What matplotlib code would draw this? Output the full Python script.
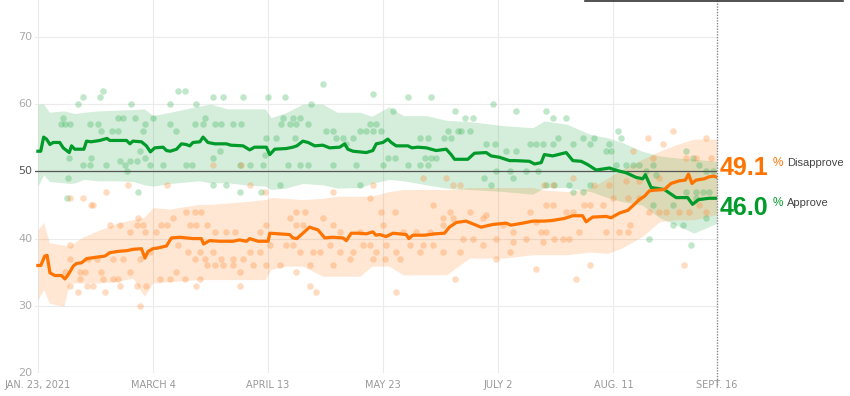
import matplotlib.pyplot as plt
from matplotlib import font_manager
from matplotlib.lines import Line2D

# days are counted from Jan. 23, 2021
tick_days = [0, 40, 80, 120, 160, 200, 236]
tick_labels = ['JAN. 23, 2021', 'MARCH 4', 'APRIL 13', 'MAY 23', 'JULY 2', 'AUG. 11', 'SEPT. 16']
y_ticks = [20, 30, 40, 50, 60, 70]

# trend lines
approve_days = [0, 1, 2, 3, 4.2, 5.3, 7.6, 8.8, 10.9, 11.7, 12.8, 16, 16.9, 18.5, 21.5, 24, 25, 30.8, 32, 33,
                36, 37.7, 39.1, 40.6, 43.5, 44.7, 46, 48.2, 49.9, 51.5, 52.8, 53.9, 56.3, 57.4, 59.1, 61.5,
                65.5, 67, 71.3, 73.6, 75.3, 79.4, 80.6, 82.3, 86.3, 88.6, 90, 92.1, 93.9, 96.2, 99, 101.4,
                104.9, 106.6, 107.7, 109.5, 114.1, 116.4, 117.6, 119.9, 121.6, 122.8, 124.5, 128.6, 130, 132,
                135, 138.4, 141.9, 143.6, 144.8, 149.4, 151.7, 155.8, 157.5, 160.4, 163.9, 166, 170.8, 172.6,
                174.9, 176, 178.9, 183.6, 185.9, 188.8, 191.1, 194, 198.6, 201.5, 204.4, 207.9, 210.2, 211.1,
                213.1, 217.7, 219.4, 221.8, 225.8, 227.5, 229.6, 233.3, 236]
approve = [53.0, 53.0, 55.1, 54.8, 54.0, 54.3, 54.3, 53.5, 52.8, 53.8, 53.3, 53.3, 54.5, 54.4, 54.6, 54.9, 54.6,
           54.6, 54.1, 54.5, 54.4, 53.8, 52.9, 53.5, 53.6, 53.1, 53.0, 53.3, 54.1, 54.0, 53.8, 54.3, 54.4, 55.1,
           54.3, 54.1, 54.1, 53.9, 53.8, 53.2, 53.6, 53.6, 52.5, 53.3, 53.4, 53.6, 53.8, 54.5, 54.3, 53.8, 53.9,
           53.5, 53.6, 54.1, 53.3, 53.0, 52.8, 53.1, 54.1, 54.3, 54.8, 54.3, 53.8, 53.8, 53.5, 53.6, 53.5, 53.1,
           53.3, 52.5, 51.8, 51.8, 52.7, 52.8, 52.3, 52.1, 51.6, 51.6, 51.5, 51.1, 51.3, 52.5, 52.3, 52.8, 51.6,
           51.5, 51.0, 50.2, 50.5, 50.1, 49.8, 49.1, 48.9, 49.5, 47.6, 47.3, 46.8, 46.1, 46.1, 45.1, 45.8, 46.0,
           46.0]

disapprove_days = [0, 1, 2.4, 3.2, 4.2, 5.9, 8.2, 9.4, 10.5, 12.3, 13.4, 15.2, 16.9, 19.8, 23.3, 25, 27.9, 30.8,
                   33.1, 36, 37.2, 38.3, 40, 41.7, 44.7, 46.4, 49.3, 51.6, 53.9, 56.8, 57.6, 59.7, 63.2, 67.8,
                   70.1, 72.5, 73.6, 76.5, 80, 80.6, 84, 87.5, 88.6, 90, 92.1, 94.4, 97.3, 99.7, 102.5, 106,
                   107.2, 108.9, 111.8, 114.1, 116.4, 117.5, 118.8, 121, 123.4, 128, 128.9, 130.3, 134.4, 137.8,
                   141.3, 143, 145.4, 148.8, 150.5, 154, 158.1, 162.7, 164.4, 168.5, 172, 176, 178.9, 183, 185.9,
                   189.3, 190.5, 192.8, 197.5, 199.2, 202.1, 205, 207.3, 209, 210.8, 212.5, 214.2, 217.7, 220,
                   222.9, 225, 226.1, 227.3, 228.7, 231.6, 233.3, 235, 236]
disapprove = [36.0, 36.0, 37.4, 37.5, 34.9, 34.5, 34.5, 34.0, 34.6, 35.9, 36.3, 36.4, 37.0, 37.2, 37.4, 37.9,
              38.1, 38.2, 38.4, 38.5, 37.1, 38.1, 38.5, 38.6, 38.9, 40.1, 40.2, 40.1, 40.0, 40.0, 39.2, 39.7,
              39.6, 39.6, 39.8, 39.6, 40.0, 39.6, 39.6, 40.8, 40.7, 40.6, 40.1, 40.0, 40.8, 41.7, 41.3, 40.1,
              40.2, 40.1, 39.7, 40.8, 40.8, 40.7, 41.0, 40.5, 40.6, 40.3, 40.8, 40.6, 40.0, 40.5, 40.5, 40.7,
              40.8, 41.7, 42.4, 42.6, 42.3, 41.7, 42.1, 42.3, 42.0, 42.3, 42.6, 42.6, 42.7, 43.0, 43.4, 43.4,
              42.5, 43.2, 43.3, 43.1, 43.8, 44.2, 45.1, 45.8, 46.3, 47.1, 47.2, 47.3, 48.2, 48.6, 48.7, 49.6,
              48.2, 48.7, 48.9, 49.2, 49.3, 49.1]

# uncertainty bands
band_days = [0, 2, 4, 9, 11, 13, 16, 21, 27, 33, 37, 40, 46, 56, 60, 66, 72, 79, 81, 86, 92, 99, 104, 112, 116,
             122, 127, 135, 142, 150, 162, 172, 176, 184, 192, 198, 203, 210, 216, 222, 228, 236]
approve_hi = [60.0, 60.0, 58.8, 59.0, 58.8, 58.6, 58.8, 59.0, 59.1, 59.2, 59.3, 58.3, 58.8, 59.7, 60.0, 59.3,
              59.3, 59.3, 58.0, 58.7, 60.0, 60.0, 58.8, 58.8, 58.2, 59.6, 58.3, 58.3, 57.6, 57.4, 56.8, 56.5,
              57.5, 57.0, 55.5, 55.0, 54.3, 53.0, 52.3, 52.0, 51.8, 51.5]
approve_lo = [47.8, 49.5, 48.5, 48.3, 48.2, 48.3, 48.8, 48.6, 48.6, 48.5, 48.0, 47.8, 48.2, 48.6, 48.3, 48.3,
              48.0, 47.8, 47.3, 47.5, 48.2, 48.0, 47.5, 47.6, 48.2, 48.8, 48.6, 48.0, 47.5, 47.3, 47.0, 46.6,
              47.6, 47.6, 47.0, 46.1, 45.5, 45.0, 43.1, 42.0, 40.8, 42.3]
disapprove_hi = [41.3, 42.4, 39.4, 39.0, 38.9, 39.5, 40.3, 41.2, 42.2, 42.8, 43.2, 44.6, 44.4, 45.1, 45.1, 45.3,
                 45.5, 45.8, 46.1, 46.0, 45.8, 46.0, 46.3, 46.3, 46.3, 47.0, 47.3, 47.3, 47.3, 47.6, 47.6, 47.6,
                 47.2, 47.0, 47.5, 49.0, 50.3, 51.8, 53.0, 54.0, 54.8, 54.8]
disapprove_lo = [30.9, 32.4, 30.4, 29.9, 33.4, 33.4, 33.4, 33.4, 33.6, 34.1, 31.4, 33.4, 33.6, 33.9, 33.9, 33.9,
                 33.9, 33.9, 35.4, 35.9, 35.9, 34.4, 34.4, 34.4, 35.9, 35.9, 34.6, 34.6, 34.6, 37.1, 37.1, 37.6,
                 37.6, 37.6, 38.0, 37.8, 38.6, 40.3, 42.5, 42.8, 42.8, 43.6]

# individual polls
approve_poll_days = [10, 10.5, 10.9, 11.1, 9.4, 14, 15.7, 21.5, 22.7, 18.1, 20.9, 15.7, 18.1, 23.8, 22.1, 25.6,
                     27.9, 27.9, 29.6, 33.7, 32.5, 28.5, 30.2, 31.9, 30.8, 34.3, 35.4, 37.2, 36.6, 37.2, 38.9,
                     43.5, 40, 45.8, 45.8, 48.1, 48.7, 51, 51.6, 53.4, 55.1, 54.5, 34.8, 8.8, 8, 18.6,
                     60.9, 64.4, 71.3, 80, 85.8, 58, 57.4, 61.5, 63.8, 67.8, 70.7, 85.2, 88.7, 91, 84.6, 87.5,
                     89.8, 93.9, 100.2, 102.5, 106, 109.5, 111.8, 114.1, 116.4, 60.9, 70.1, 73.6, 63.2, 78.2,
                     86.9, 91, 93.9, 102.5, 110.6, 78.8, 79.4, 82.9, 89.2, 60.9, 65.5, 70.1, 77.7, 84, 111.8,
                     99.1, 95, 103.7, 107.2,
                     116.5, 128.6, 136.7, 123.4, 144.8, 115.3, 117.6, 119.4, 148.3, 151.2, 158.1, 166.2, 132.7,
                     135.6, 141.3, 143.7, 147.1, 150, 121.7, 124, 134.4, 136.7, 138.4, 120, 128.6, 132.7, 135.6,
                     142.5, 146, 155.8, 158.7, 162.8, 166.2, 170.9, 173.2, 165.1, 163.9, 159.3, 155.2, 157.5,
                     169.7, 173.7,
                     176.6, 178.9, 183.6, 175.5, 178.9, 180.7, 185.9, 189.3, 191.7, 193.4, 198.6, 200.9, 202.7,
                     204.4, 197.4, 199.2, 206.7, 209, 213.6, 211.3, 214.8, 176.6, 179.5, 184.7, 185.9, 189.3,
                     191.7, 225.2, 227.5, 229.9, 232.2, 234.5, 224.1, 220.6, 232.2, 227, 212.5, 225.2, 228.7,
                     231, 233.3, 213.6, 220.6, 228.7, 201.5]
approve_poll_vals = [46, 49, 52, 57, 57, 60, 61, 61, 62, 57, 57, 51, 51, 51, 56, 56, 56, 58, 58, 58, 60, 51.5,
                     51, 51.5, 50, 51.5, 53, 52, 56, 57, 51, 51, 58, 60, 57, 56, 62, 62, 51, 51, 60, 57, 47, 58,
                     57, 52,
                     61, 61, 61, 61, 61, 58, 57, 57, 57, 57, 57, 58, 58, 58, 57, 57, 57, 57, 56, 56, 55, 55, 56,
                     56, 56, 52, 51, 51, 53, 51, 51, 51, 51, 51, 51, 52.5, 55, 55, 55, 48, 48, 47, 47, 48, 48,
                     63, 60, 55, 54,
                     61.5, 61, 61, 59, 59, 57, 57, 56, 58, 58, 60, 59, 55, 55, 55, 55, 56, 56, 52, 52, 52, 52, 52,
                     51, 51, 51, 51, 56, 56, 54, 54, 53, 53, 54, 54, 49, 50, 50, 49, 48, 50, 50,
                     59, 58, 58, 54, 54, 55, 54, 55, 54, 55, 54, 51, 55, 51, 53, 53, 51, 51, 51, 50, 49.5, 48, 48,
                     48, 47, 47, 48, 53, 52, 51, 50, 50, 42, 42, 43, 39, 40, 47, 47, 47, 47, 45, 45, 46, 56]

disapprove_poll_days = [11.1, 15.7, 18.6, 23.8, 31.4, 44.7, 11.1, 11.1, 14.6, 14.6, 16.3, 11.1, 16.9, 19.2, 20.4,
                        17.5, 26.2, 29.6, 35.4, 38.9, 22.1, 22.7, 26.2, 27.9, 31.9, 28.5, 34.3, 37.7, 42.4,
                        45.8, 23.3, 25, 28.5, 34.3, 36.6, 31.9, 34.8, 37.2, 41.2, 42.9, 44.7, 47, 51.6, 54.5,
                        52.8, 55.1, 48.1, 51, 55.1, 35.4, 48.7, 52.2, 54.5, 9.4, 14, 19,
                        60.9, 70.7, 73.6, 78.8, 102.5, 116.4, 56.8, 58.6, 61.5, 65.5, 68.4, 77.1, 79.4, 87.5,
                        89.8, 92.7, 89.8, 92.1, 99.1, 102.5, 104.9, 111.8, 56.3, 58, 60.9, 63.8, 67.8, 71.3,
                        73.6, 77.1, 80.6, 86.3, 88.7, 91, 95.6, 97.9, 101.4, 104.9, 109.5, 113, 115.3, 58.6,
                        61.5, 64.4, 67.8, 70.1, 74.8, 79.4, 84, 89.8, 94.4, 102.5, 108.3, 70.1, 94.4, 96.8, 56.3,
                        133.8, 141.9, 146.6, 144.2, 115.3, 137.3, 143.1, 150, 155.8, 170.9, 173.2, 144.2, 119.4,
                        124, 120, 126.9, 131.5, 136.1, 140.8, 140.8, 154.7, 161.6, 165.1, 117.6, 121.1, 124.6,
                        129.2, 133.8, 137.3, 147.7, 151.2, 154.7, 159.3, 165.1, 169.7, 175.5, 116.5, 120.5,
                        125.7, 132.7, 140.8, 146.6, 159.3, 163.9, 144.8, 173.2, 124.6,
                        211.9, 220.6, 217.1, 206.7, 213.6, 232.2, 225.2, 228.7, 233.9, 176, 178.9, 185.9, 193.4,
                        198.6, 204.4, 209, 216, 176.6, 178.9, 183.6, 185.9, 189.9, 191.7, 196.3, 199.8, 205, 209,
                        212.5, 216, 218.3, 222.9, 226.4, 229.9, 232.2, 174.9, 176.6, 179.5, 182.4, 184.7, 188.2,
                        197.4, 202.1, 205, 205.6, 187, 191.7, 224.6]
disapprove_poll_vals = [46, 46, 45, 47, 48, 48, 39, 37, 35, 34, 35, 33, 33, 33, 37, 37, 37, 37, 37, 38, 35, 34,
                        34, 34, 35, 33, 33, 33, 34, 34, 32, 42, 42, 42, 42, 41, 43, 41, 41, 42, 42, 43, 44, 44,
                        42, 42, 35, 34, 33, 30, 39, 38, 37, 35, 32, 45,
                        51, 51, 48, 47, 47, 48, 44, 42, 41, 41, 41, 41, 42, 43, 44, 44, 42, 42, 43, 42, 41, 41,
                        38, 37, 38, 37, 37, 37, 38, 38, 39, 39, 39, 38, 38, 38, 39, 38, 38, 39, 39, 36, 36, 36,
                        36, 35, 36, 36, 36, 35, 36, 36, 37, 33, 33, 32, 34,
                        49, 49, 48, 48, 46, 45, 44, 44, 43.5, 44, 42.5, 43, 44, 44, 42, 41, 41, 41, 43, 42, 43,
                        42, 41, 38, 39, 38, 39, 39, 39, 40, 40, 39, 40, 39.5, 40, 39.5, 37, 37, 37, 38, 38, 38, 37,
                        38, 34, 35.5, 32,
                        55, 56, 54, 53, 52, 55, 52, 52, 52, 48, 48, 49, 48, 48, 48.5, 48.5, 49, 45, 45, 44, 44,
                        45, 45, 45, 46, 46, 46, 44, 44, 44, 44, 44, 45, 44, 41, 41, 40, 40, 40, 41, 41, 41, 41,
                        42, 34, 36, 36]

GREEN = '#009b2a'
ORANGE = '#ff7300'

names = {f.name for f in font_manager.fontManager.ttflist}
narrow = 'Liberation Sans Narrow' if 'Liberation Sans Narrow' in names else 'DejaVu Sans'

fig = plt.figure(figsize=(8.5, 3.96), dpi=100)
ax = fig.add_axes([35 / 850, 23 / 396, 682 / 850, 373 / 396])
ax.set_xlim(-1.0, 236)
ax.set_ylim(20, 75.5)

# grid
for y in y_ticks:
    ax.axhline(y, color='#ebebeb', lw=0.8, zorder=0)
for d in tick_days[:-1]:
    ax.axvline(d, color='#ebebeb', lw=0.8, zorder=0)

# bands
ax.fill_between(band_days, approve_lo, approve_hi, color='#17a53a', alpha=0.18, lw=0, zorder=1)
ax.fill_between(band_days, disapprove_lo, disapprove_hi, color='#ff7a10', alpha=0.18, lw=0, zorder=1)

# polls
ax.scatter(approve_poll_days, approve_poll_vals, s=22, color='#2fb050', alpha=0.3, lw=0, zorder=2)
ax.scatter(disapprove_poll_days, disapprove_poll_vals, s=22, color='#ff8a30', alpha=0.3, lw=0, zorder=2)

ax.axhline(50, color='#555555', lw=0.9, zorder=3)

ax.plot(approve_days, approve, color=GREEN, lw=2.3, zorder=4, solid_joinstyle='round')
ax.plot(disapprove_days, disapprove, color=ORANGE, lw=2.3, zorder=4, solid_joinstyle='round')

# dotted "today" line
ax.plot([236, 236], [18.2, 75.5], color='#888888', lw=1.0, ls=(0, (1, 1)), clip_on=False, zorder=5)

for s in ax.spines.values():
    s.set_visible(False)
ax.set_xticks([])
ax.set_yticks([])

for d, lab in zip(tick_days, tick_labels):
    ax.text(d, 18.2, lab, ha='center', va='center', fontsize=7, color='#999999', family=narrow)
for y in y_ticks:
    ax.text(-1.9, y, str(y), ha='right', va='center', fontsize=8,
            color='#555555' if y == 50 else '#aaaaaa', family=narrow)

# end labels
fig.text(720 / 850, 1 - 175 / 396, '%.1f' % disapprove[-1], color=ORANGE, fontsize=18,
         fontweight='bold', family='Liberation Sans', va='baseline')
fig.text(773 / 850, 1 - 166 / 396, '%', color=ORANGE, fontsize=8.5, family='Liberation Sans', va='baseline')
fig.text(787 / 850, 1 - 166 / 396, 'Disapprove', color='#444444', fontsize=8, family='Liberation Sans',
         va='baseline')
fig.text(720 / 850, 1 - 215 / 396, '%.1f' % approve[-1], color=GREEN, fontsize=18,
         fontweight='bold', family='Liberation Sans', va='baseline')
fig.text(773 / 850, 1 - 206 / 396, '%', color=GREEN, fontsize=8.5, family='Liberation Sans', va='baseline')
fig.text(787 / 850, 1 - 206 / 396, 'Approve', color='#444444', fontsize=8, family='Liberation Sans',
         va='baseline')

# rule at the top right
fig.add_artist(Line2D([585 / 850, 843 / 850], [0.998, 0.998], color='#333333', lw=1.2))

fig.savefig('out.png', dpi=100)
